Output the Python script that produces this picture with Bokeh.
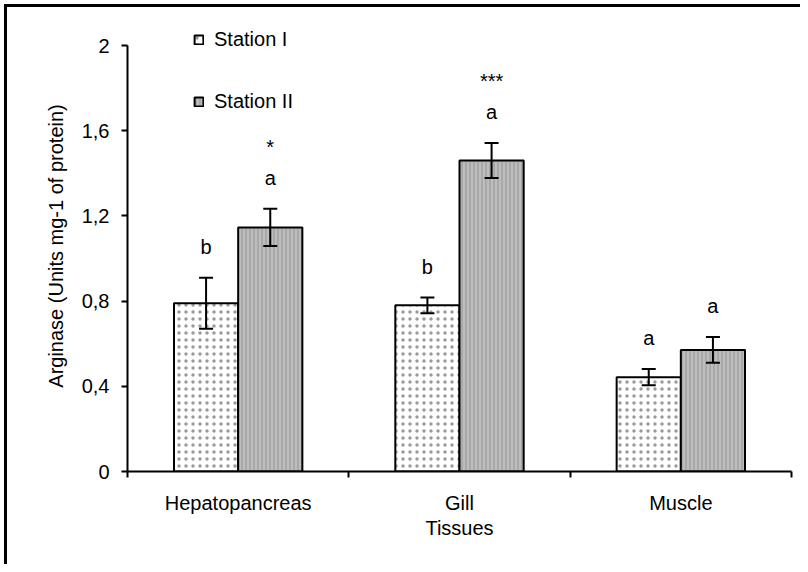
from bokeh.plotting import figure
from bokeh.layouts import row, column
from bokeh.models import (Range1d, FixedTicker, Whisker, TeeHead, ColumnDataSource,
                          Legend, LegendItem, Spacer)
from bokeh.embed import file_html
from bokeh.resources import INLINE
from bokeh.core.properties import value

# ---- data ----
categories = ["Hepatopancreas", "Gill", "Muscle"]
station_1 = [0.79, 0.78, 0.443]
station_1_err = [0.12, 0.037, 0.038]
station_2 = [1.146, 1.46, 0.571]
station_2_err = [0.087, 0.082, 0.061]
letters_1 = ["b", "b", "a"]
letters_2 = ["a", "a", "a"]
stars_2 = ["*", "***", ""]
y_ticks = [0, 0.4, 0.8, 1.2, 1.6, 2.0]
y_tick_labels = ["0", "0,4", "0,8", "1,2", "1,6", "2"]
y_label = "Arginase (Units mg-1 of protein)"
x_label = "Tissues"
series_names = ["Station I", "Station II"]

FONT = "Liberation Sans"
FS = "20px"

# main chart; its canvas begins at page pixel 7 (4px gap + 3px frame line)
p = figure(width=793, height=557, output_backend="svg", toolbar_location=None,
           title=None,
           x_range=Range1d(0, 3), y_range=Range1d(0, 451 / 213),
           min_border_left=120, min_border_right=9, min_border_top=13,
           min_border_bottom=93)
p.outline_line_color = None
p.grid.visible = False
p.background_fill_color = "white"
p.border_fill_color = "white"

centers = [i + 0.5 for i in range(len(categories))]
off = 0.145
bw = 0.29
letter_gap = 0.145
star_gap = 0.147

x1 = [c - off for c in centers]
x2 = [c + off for c in centers]
up1 = [v + e for v, e in zip(station_1, station_1_err)]
lo1 = [v - e for v, e in zip(station_1, station_1_err)]
up2 = [v + e for v, e in zip(station_2, station_2_err)]
lo2 = [v - e for v, e in zip(station_2, station_2_err)]

src1 = ColumnDataSource(dict(x=x1, top=station_1, upper=up1, lower=lo1,
                             label=letters_1, ly=[u + letter_gap for u in up1]))
src2 = ColumnDataSource(dict(x=x2, top=station_2, upper=up2, lower=lo2,
                             label=letters_2, ly=[u + letter_gap for u in up2],
                             stars=stars_2,
                             sy=[u + letter_gap + star_gap for u in up2]))

r1 = p.vbar(x="x", top="top", width=bw, source=src1, fill_color="white",
            line_color="black", line_width=2, hatch_pattern="dot",
            hatch_color="#9a9a9a", hatch_scale=7, hatch_weight=0.6)
r2 = p.vbar(x="x", top="top", width=bw, source=src2, fill_color="#bdbdbd",
            line_color="black", line_width=2, hatch_pattern="vertical_line",
            hatch_color="#959595", hatch_scale=4, hatch_weight=1)

for src in (src1, src2):
    w = Whisker(base="x", upper="upper", lower="lower", source=src,
                line_width=2, line_color="black", level="annotation",
                upper_head=TeeHead(size=14, line_width=2, line_color="black"),
                lower_head=TeeHead(size=14, line_width=2, line_color="black"))
    p.add_layout(w)

for src, col, ycol in ((src1, "label", "ly"), (src2, "label", "ly"), (src2, "stars", "sy")):
    p.text(x="x", y=ycol, text=col, source=src, text_align="center",
           text_baseline="alphabetic", text_font=value(FONT), text_font_size=FS,
           text_color="black")

legend = Legend(items=[LegendItem(label=series_names[0], renderers=[r1]),
                       LegendItem(label=series_names[1], renderers=[r2])],
                location=(66, 358), glyph_width=11, glyph_height=11, spacing=39,
                label_text_font=FONT, label_text_font_size=FS, label_standoff=10,
                label_text_color="black",
                padding=0, margin=0, border_line_color=None,
                background_fill_alpha=0)
p.add_layout(legend)

# x axis
xa = p.xaxis[0]
xa.ticker = FixedTicker(ticks=centers, minor_ticks=list(range(len(categories) + 1)))
xa.major_label_overrides = {c: n for c, n in zip(centers, categories)}
xa.major_tick_line_color = None
xa.major_tick_out = 0
xa.major_tick_in = 0
xa.minor_tick_out = 6
xa.minor_tick_in = 0
xa.minor_tick_line_color = "black"
xa.minor_tick_line_width = 2
xa.axis_line_width = 2
xa.axis_line_color = "black"
xa.major_label_standoff = 14
xa.major_label_text_font = FONT
xa.major_label_text_font_size = FS
xa.major_label_text_color = "black"
xa.axis_label = x_label
xa.axis_label_text_font = FONT
xa.axis_label_text_font_size = FS
xa.axis_label_text_font_style = "normal"
xa.axis_label_text_color = "black"
xa.axis_label_standoff = 0

# y axis
ya = p.yaxis[0]
ya.ticker = FixedTicker(ticks=y_ticks)
ya.major_label_overrides = {t: l for t, l in zip(y_ticks, y_tick_labels)}
ya.bounds = (0, 2)
ya.major_tick_out = 6
ya.major_tick_in = 0
ya.major_tick_line_width = 2
ya.minor_tick_line_color = None
ya.axis_line_width = 2
ya.axis_line_color = "black"
ya.major_label_standoff = 12
ya.major_label_text_font = FONT
ya.major_label_text_font_size = FS
ya.major_label_text_color = "black"
ya.axis_label = y_label
ya.axis_label_text_font = FONT
ya.axis_label_text_font_size = FS
ya.axis_label_text_font_style = "normal"
ya.axis_label_text_color = "black"
ya.axis_label_standoff = 12

# thick black frame lines along the top and left edge of the picture
top_bar = Spacer(width=796, height=3, styles={"background-color": "black"})
left_bar = Spacer(width=3, height=557, styles={"background-color": "black"})

page = column(
    Spacer(width=796, height=4),
    row(Spacer(width=4, height=560),
        column(top_bar, row(left_bar, p, spacing=0), spacing=0),
        spacing=0),
    spacing=0)

open("out.html", "w").write(file_html(page, INLINE))
